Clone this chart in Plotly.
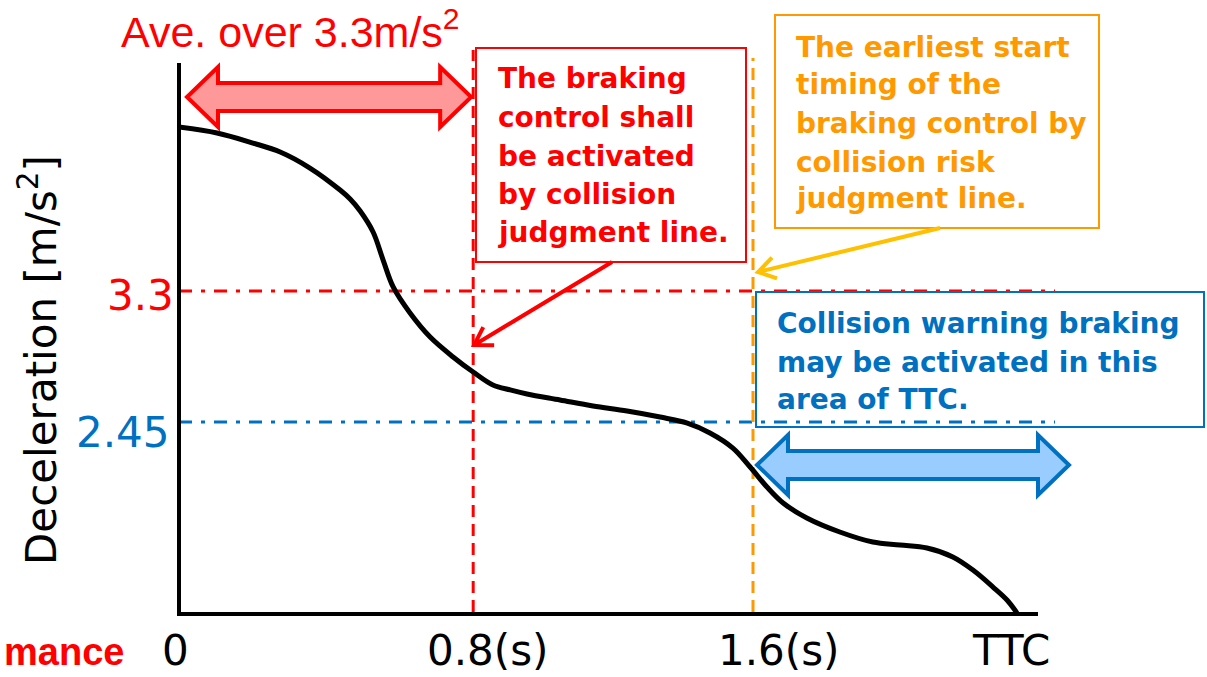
import math
import plotly.graph_objects as go

# ---------------- data ----------------
ttc_s = [0.0, 0.106, 0.206, 0.282, 0.365, 0.449, 0.477, 0.505, 0.541, 0.569,
         0.597, 0.644, 0.700, 0.764, 0.820, 0.875, 0.923, 0.970, 1.062, 1.154,
         1.249, 1.341, 1.417, 1.480, 1.544, 1.592, 1.639, 1.684, 1.750, 1.842,
         1.934, 2.010, 2.085, 2.157, 2.213, 2.269, 2.308, 2.336]
decel = [4.364, 4.325, 4.260, 4.202, 4.098, 3.955, 3.897, 3.819, 3.683, 3.501,
         3.326, 3.157, 3.001, 2.872, 2.774, 2.690, 2.658, 2.632, 2.593, 2.554,
         2.521, 2.482, 2.443, 2.379, 2.281, 2.158, 2.028, 1.924, 1.827, 1.736,
         1.671, 1.652, 1.632, 1.574, 1.489, 1.379, 1.295, 1.210]

threshold_values = [3.3, 2.45]          # m/s^2
threshold_labels = ["3.3", "2.45"]
timing_lines_s = [0.82, 1.60]           # judgment line, earliest start line
x_tick_text = ["0", "0.8(s)", "1.6(s)", "TTC"]

title_text = "Ave. over 3.3m/s<sup>2</sup>"
y_title = "Deceleration [m/s<sup>2</sup>]"
red_box_lines = ["The braking", "control shall", "be activated", "by collision",
                 "judgment line."]
orange_box_lines = ["The earliest start", "timing of the", "braking control by",
                    "collision risk", "judgment line."]
blue_box_lines = ["Collision warning braking", "may be activated in this",
                  "area of TTC."]
corner_text = "mance"

# ---------------- styling / geometry ----------------
RED = "#FF0000"
ORANGE = "#FF9900"
YELLOW = "#FFC000"
BLUE = "#0070C0"
W, H = 1207, 677
L, R, T, B = 181, 1038, 63, 612
X0PX, KX = 179.0, 358.75         # pixel of t=0, px per second
Y33PX, KY = 291.0, 154.1          # pixel of 3.3, px per m/s^2

x_range = [(L - X0PX) / KX, (R - X0PX) / KX]
y_range = [3.3 - (B - Y33PX) / KY, 3.3 + (Y33PX - T) / KY]


def pxx(px):
    return (px - L) / (R - L)


def pxy(py):
    return (B - py) / (B - T)


def data_px_x(x):
    return X0PX + x * KX


AX_FONT = "DejaVu Sans, Verdana, sans-serif"
BOX_FONT = "DejaVu Sans, Verdana, sans-serif"

fig = go.Figure()
fig.add_trace(go.Scatter(x=ttc_s, y=decel, mode="lines",
                         line=dict(color="black", width=5, shape="spline", smoothing=1.0),
                         hoverinfo="skip", showlegend=False))

shapes = []
annotations = []

# horizontal threshold lines (dash-dot)
for val, col in zip(threshold_values, [RED, BLUE]):
    shapes.append(dict(type="line", xref="paper", yref="y",
                       x0=pxx(179), x1=pxx(1055), y0=val, y1=val,
                       line=dict(color=col, width=3, dash="13px,9px,4px,9px"),
                       layer="below"))

# vertical timing lines (dashed)
for t, col, top in zip(timing_lines_s, [RED, ORANGE], [50, 58]):
    shapes.append(dict(type="line", xref="x", yref="paper",
                       x0=t, x1=t, y0=0, y1=pxy(top),
                       line=dict(color=col, width=3, dash="12px,7px"),
                       layer="below"))


def to_path(pts, close=True):
    s = "M" + " L".join(f"{pxx(a):.5f},{pxy(b):.5f}" for a, b in pts)
    return s + (" Z" if close else "")


def double_arrow(x1, x2, yc, head_h=30, shaft_h=14, head_len=31):
    pts = [(x1, yc), (x1 + head_len, yc - head_h), (x1 + head_len, yc - shaft_h),
           (x2 - head_len, yc - shaft_h), (x2 - head_len, yc - head_h), (x2, yc),
           (x2 - head_len, yc + head_h), (x2 - head_len, yc + shaft_h),
           (x1 + head_len, yc + shaft_h), (x1 + head_len, yc + head_h)]
    return to_path(pts)


def callout(xt, yt, xh, yh, leg=20, ang=32):
    d = math.atan2(yt - yh, xt - xh)
    a1, a2 = d + math.radians(ang), d - math.radians(ang)
    p1 = (xh + leg * math.cos(a1), yh + leg * math.sin(a1))
    p2 = (xh + leg * math.cos(a2), yh + leg * math.sin(a2))
    return (to_path([(xt, yt), (xh, yh)], close=False) + " " +
            to_path([p1, (xh, yh), p2], close=False))


# red double arrow: from t=0 to the judgment line
shapes.append(dict(type="path", xref="paper", yref="paper",
                   path=double_arrow(data_px_x(0) + 8, data_px_x(timing_lines_s[0]) - 2, 97),
                   fillcolor="#FF9999", line=dict(color=RED, width=4), layer="above"))
# blue double arrow: from earliest start line onward
shapes.append(dict(type="path", xref="paper", yref="paper",
                   path=double_arrow(data_px_x(timing_lines_s[1]) + 4, 1069, 465),
                   fillcolor="#99CCFF", line=dict(color=BLUE, width=4), layer="above"))

# text boxes
for (x0, y0, x1, y1), col in zip([(476, 48, 746, 262), (775, 15, 1099, 228), (756, 292, 1204, 427)],
                                 [RED, ORANGE, BLUE]):
    shapes.append(dict(type="rect", xref="paper", yref="paper",
                       x0=pxx(x0), x1=pxx(x1), y0=pxy(y0), y1=pxy(y1),
                       line=dict(color=col, width=2), fillcolor="rgba(0,0,0,0)", layer="above"))

# callout arrows from the boxes to the lines
shapes.append(dict(type="path", xref="paper", yref="paper",
                   path=callout(612, 262, data_px_x(timing_lines_s[0]) + 1, 345),
                   line=dict(color=RED, width=4), layer="above"))
shapes.append(dict(type="path", xref="paper", yref="paper",
                   path=callout(940, 228, data_px_x(timing_lines_s[1]) + 5, 272),
                   line=dict(color=YELLOW, width=4), layer="above"))


def box_text(lines, xleft, ymids, col):
    for txt, ym in zip(lines, ymids):
        annotations.append(dict(xref="paper", yref="paper", x=pxx(xleft), y=pxy(ym),
                                xanchor="left", yanchor="middle", text=txt, showarrow=False,
                                font=dict(family=BOX_FONT, size=28, color=col, weight="bold")))


box_text(red_box_lines, 496, [79, 117, 156, 194, 232], RED)
box_text(orange_box_lines, 794, [47, 85, 123, 162, 198], ORANGE)
box_text(blue_box_lines, 775, [323, 362, 399], BLUE)

# title above the red arrow
annotations.append(dict(xref="paper", yref="paper", x=pxx(119), y=pxy(29),
                        xanchor="left", yanchor="middle", text=title_text, showarrow=False,
                        font=dict(family="Liberation Sans, Arial, sans-serif", size=43, color=RED)))

# x tick labels
for txt, xc in zip(x_tick_text, [175, 487, 778, 1011]):
    annotations.append(dict(xref="paper", yref="paper", x=pxx(xc), y=pxy(650),
                            xanchor="center", yanchor="middle", text=txt, showarrow=False,
                            font=dict(family=AX_FONT, size=42, color="black")))

# y tick labels
for txt, col, xr, ym in zip(threshold_labels, [RED, BLUE], [176, 172], [295, 432]):
    annotations.append(dict(xref="paper", yref="paper", x=pxx(xr), y=pxy(ym),
                            xanchor="right", yanchor="middle", text=txt, showarrow=False,
                            font=dict(family=AX_FONT, size=42, color=col)))

# y axis title
annotations.append(dict(xref="paper", yref="paper", x=pxx(39), y=pxy(360),
                        xanchor="center", yanchor="middle", text=y_title, textangle=-90,
                        showarrow=False, font=dict(family=AX_FONT, size=42, color="black")))

# red text at lower-left corner
annotations.append(dict(xref="paper", yref="paper", x=pxx(2), y=pxy(652),
                        xanchor="left", yanchor="middle", text=corner_text, showarrow=False,
                        font=dict(family="Liberation Sans, Arial, sans-serif", size=38,
                                  color=RED, weight="bold")))

fig.update_layout(
    width=W, height=H, autosize=False,
    margin=dict(l=L, r=W - R, t=T, b=H - B, pad=0),
    paper_bgcolor="white", plot_bgcolor="white",
    showlegend=False,
    shapes=shapes, annotations=annotations,
    xaxis=dict(range=x_range, showline=True, linecolor="black", linewidth=4,
               showgrid=False, zeroline=False, showticklabels=False, ticks="", fixedrange=True),
    yaxis=dict(range=y_range, showline=True, linecolor="black", linewidth=4,
               showgrid=False, zeroline=False, showticklabels=False, ticks="", fixedrange=True),
)

fig.write_html("out.html", config={"displayModeBar": False},
               post_script="document.body.style.margin='0';document.body.style.overflow='hidden';")
